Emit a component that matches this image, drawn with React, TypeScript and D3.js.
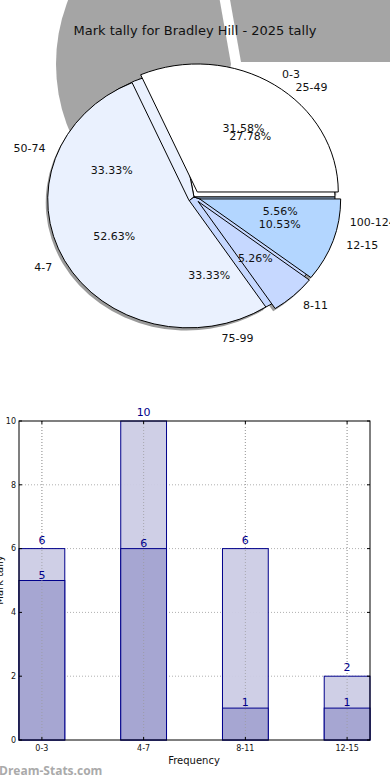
import React from "react";
import * as d3 from "d3";

// pie A: frequency classes
const freqLabels = ["0-3", "4-7", "8-11", "12-15"];
const freqCounts = [6, 10, 1, 2];
// pie B: mark ranges
const markLabels = ["25-49", "50-74", "75-99", "100-124"];
const markCounts = [5, 6, 6, 1];
const pieColors = ["#ffffff", "#eaf1fe", "#c6d8ff", "#b3d6ff"];

// bar chart
const barCats = ["0-3", "4-7", "8-11", "12-15"];
const barTotal = [6, 10, 6, 2];
const barPart = [5, 6, 1, 1];
const yTicks = [0, 2, 4, 6, 8, 10];

const W = 390;
const H = 780;
const FONT = "DejaVu Sans, sans-serif";

const cx = 194;
const cy = 197;
const rx = 141;
const ry = 128;
const sy = ry / rx;
const boom = 6;

const App = () => {
  const pie = d3
    .pie<number>()
    .sort(null)
    .startAngle(Math.PI / 2)
    .endAngle(Math.PI / 2 - 2 * Math.PI);
  const arc = d3.arc<d3.PieArcDatum<number>>().innerRadius(0).outerRadius(rx);
  const arcsA = pie(freqCounts);
  const arcsB = pie(markCounts);
  const mid = (d: d3.PieArcDatum<number>) => (d.startAngle + d.endAngle) / 2;
  const pt = (a: number, f: number, ex: number) => [
    cx + Math.sin(a) * (rx * f + ex),
    cy - Math.cos(a) * (ry * f + ex),
  ];
  const pct = (v: number, tot: number) => ((v / tot) * 100).toFixed(2) + "%";
  const totA = d3.sum(freqCounts);
  const totB = d3.sum(markCounts);

  // background grey wedges at the top
  const bigArc = d3.arc().innerRadius(0).outerRadius(175);
  const toD3 = (deg: number) => ((90 - deg) * Math.PI) / 180;

  // bar chart scales
  const x = d3.scaleLinear().domain([-0.225, 3.225]).range([19, 370]);
  const y = d3.scaleLinear().domain([0, 10]).range([740, 421]);
  const bw = x(0.45) - x(0);
  const navy = "#00008b";

  return (
    <svg width={W} height={H} style={{ position: "absolute", left: 0, top: 0 }} fontFamily={FONT}>
      <defs>
        <clipPath id="top">
          <rect x={0} y={0} width={W} height={400} />
        </clipPath>
      </defs>
      <rect width={W} height={H} fill="#fff" />
      <g clipPath="url(#top)" fill="#a5a5a5">
        <path
          transform="translate(241,62)"
          d={bigArc({ innerRadius: 0, outerRadius: 175, startAngle: toD3(100), endAngle: toD3(0) } as any) || ""}
        />
        <path
          transform="translate(231,64)"
          d={bigArc({ innerRadius: 0, outerRadius: 175, startAngle: toD3(260), endAngle: toD3(100) } as any) || ""}
        />
      </g>
      <text x={195} y={35} textAnchor="middle" fontSize={13} fill="#111">
        Mark tally for Bradley Hill - 2025 tally
      </text>

      {/* shadows */}
      <g transform={`translate(${cx - 2},${cy + 3}) scale(1,${sy})`}>
        {arcsA.map((d, i) => (
          <path
            key={i}
            d={arc(d) || ""}
            transform={`translate(${Math.sin(mid(d)) * boom},${-Math.cos(mid(d)) * boom})`}
            fill="#707070"
            opacity={0.7}
          />
        ))}
      </g>
      {/* pie B underneath */}
      <g transform={`translate(${cx},${cy}) scale(1,${sy})`}>
        {arcsB.map((d, i) => (
          <path
            key={i}
            d={arc(d) || ""}
            fill={pieColors[i]}
            stroke="#000"
            strokeWidth={1}
            vectorEffect="non-scaling-stroke"
          />
        ))}
      </g>
      {/* pie A exploded on top */}
      <g transform={`translate(${cx},${cy}) scale(1,${sy})`}>
        {arcsA.map((d, i) => (
          <path
            key={i}
            d={arc(d) || ""}
            transform={`translate(${Math.sin(mid(d)) * boom},${(-Math.cos(mid(d)) * boom) / sy})`}
            fill={pieColors[i]}
            stroke="#000"
            strokeWidth={1}
            vectorEffect="non-scaling-stroke"
          />
        ))}
      </g>
      <g fontSize={11} fill="#111">
        {arcsA.map((d, i) => {
          const [lx, ly] = pt(mid(d), 1.1, boom);
          const [px, py] = pt(mid(d), 0.6, boom);
          return (
            <g key={i}>
              <text x={lx} y={ly} dy="0.35em" textAnchor={Math.sin(mid(d)) > 0 ? "start" : "end"}>
                {freqLabels[i]}
              </text>
              <text x={px} y={py} dy="0.35em" textAnchor="middle">
                {pct(freqCounts[i], totA)}
              </text>
            </g>
          );
        })}
        {arcsB.map((d, i) => {
          const [lx, ly] = pt(mid(d), 1.1, 3);
          const [px, py] = pt(mid(d), 0.6, 3);
          return (
            <g key={i}>
              <text x={lx} y={ly} dy="0.35em" textAnchor={Math.sin(mid(d)) > 0 ? "start" : "end"}>
                {markLabels[i]}
              </text>
              <text x={px} y={py} dy="0.35em" textAnchor="middle">
                {pct(markCounts[i], totB)}
              </text>
            </g>
          );
        })}
      </g>

      {/* bar chart */}
      <g stroke="#b0b0b0" strokeDasharray="1,2" strokeWidth={1}>
        {yTicks.slice(1, -1).map((t) => (
          <line key={t} x1={19} x2={370} y1={y(t)} y2={y(t)} />
        ))}
        {barCats.map((c, i) => (
          <line key={c} x1={x(i)} x2={x(i)} y1={421} y2={740} />
        ))}
      </g>
      {barCats.map((c, i) => (
        <g key={c}>
          <rect
            x={x(i) - bw / 2}
            y={y(barTotal[i])}
            width={bw}
            height={y(0) - y(barTotal[i])}
            fill="#ccccE5"
            stroke={navy}
            fillOpacity={0.95}
          />
          <rect
            x={x(i) - bw / 2}
            y={y(barPart[i])}
            width={bw}
            height={y(0) - y(barPart[i])}
            fill="#a3a3d1"
            stroke={navy}
            fillOpacity={0.95}
          />
          <line x1={x(i)} x2={x(i)} y1={421} y2={740} stroke="#999" strokeDasharray="1,2" opacity={0.7} />
          <text x={x(i)} y={y(barTotal[i]) - 5} textAnchor="middle" fontSize={11} fill={navy}>
            {barTotal[i]}
          </text>
          <text x={x(i)} y={y(barPart[i]) - 2} textAnchor="middle" fontSize={11} fill={navy}>
            {barPart[i]}
          </text>
          <text x={x(i)} y={751} textAnchor="middle" fontSize={8} fill="#111">
            {c}
          </text>
          <line x1={x(i)} x2={x(i)} y1={740} y2={737} stroke="#000" />
          <line x1={x(i)} x2={x(i)} y1={421} y2={424} stroke="#000" />
        </g>
      ))}
      <rect x={19} y={421} width={351} height={319} fill="none" stroke="#000" strokeWidth={1} />
      {yTicks.map((t) => (
        <g key={t}>
          <line x1={19} x2={22} y1={y(t)} y2={y(t)} stroke="#000" />
          <line x1={367} x2={370} y1={y(t)} y2={y(t)} stroke="#000" />
          <text x={16} y={y(t)} dy="0.35em" textAnchor="end" fontSize={8} fill="#111">
            {t}
          </text>
        </g>
      ))}
      <text x={194} y={764} textAnchor="middle" fontSize={10} fill="#111">
        Frequency
      </text>
      <text transform="translate(3,580) rotate(-90)" textAnchor="middle" fontSize={10} fill="#111">
        Mark tally
      </text>
      <text x={-1} y={775} fontSize={12} fontWeight="bold" fill="#aaa" fontFamily="Open Sans, sans-serif">
        Dream-Stats.com
      </text>
    </svg>
  );
};

export default App;
